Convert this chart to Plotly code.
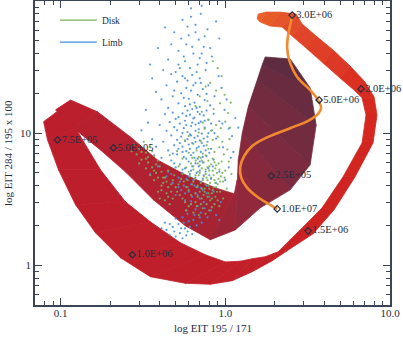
import plotly.graph_objects as go

# ---- data ----
# outer band: loop of the 1.0E+06 ... 3.0E+06 track
BAND_A_OUTER_X = [0.0789, 0.0834, 0.0972, 0.1233, 0.1630, 0.2310, 0.3511, 0.5722, 0.8111, 1.103, 1.458,
                  1.927, 2.583, 3.415, 4.578, 6.136, 7.889, 8.34, 8.00, 7.054, 5.722, 4.512, 3.561, 2.929,
                  2.693, 2.154, 1.772, 1.585]
BAND_A_OUTER_Y = [12.2, 8.88, 5.27, 2.87, 1.76, 1.14, 0.819, 0.730, 0.718, 0.764, 0.893, 1.081, 1.38, 1.73,
                  2.63, 4.67, 8.43, 13.7, 18.8, 24.4, 32.2, 42.6, 54.3, 66.9, 79.6, 82.4, 82.4, 79.6]
BAND_A_INNER_X = [0.1118, 0.1233, 0.1748, 0.2477, 0.3511, 0.5337, 0.7565, 1.0, 1.233, 1.458, 1.748, 2.096,
                  2.477, 2.970, 3.871, 5.191, 6.766, 7.153, 6.766, 6.05, 4.977, 3.926, 3.097, 2.547, 2.215,
                  1.874, 1.630, 1.563]
BAND_A_INNER_Y = [16.9, 10.9, 5.27, 3.02, 2.13, 1.48, 1.20, 1.06, 1.072, 1.12, 1.16, 1.265, 1.56, 1.95, 2.72,
                  4.67, 8.43, 13.7, 18.5, 21.2, 26.1, 33.9, 44.1, 54.3, 63.5, 64.6, 69.3, 73.0]

# inner band: 5.0E+05 ... 2.5E+05 track
BAND_B_UPPER_X = [0.1150, 0.1676, 0.2655, 0.3871, 0.5722, 0.8697, 1.134, 1.182, 1.199, 1.268, 1.379, 1.563,
                  1.676, 1.748]
BAND_B_UPPER_Y = [17.8, 14.5, 9.36, 6.27, 4.83, 3.85, 3.47, 4.43, 6.27, 10.0, 15.8, 25.2, 32.8, 37.7]
BAND_B_LOWER_X = [0.0932, 0.1199, 0.1748, 0.2477, 0.3661, 0.5722, 0.8111, 1.150, 1.630, 2.477, 3.275, 3.561,
                  3.275, 2.477]
BAND_B_LOWER_Y = [15.0, 10.9, 7.46, 5.09, 3.13, 1.99, 1.56, 1.85, 2.72, 3.72, 5.75, 11.5, 22.0, 36.4]

# thin track 3.0E+06 -> 1.0E+07
TRACK_X = [2.547, 2.477, 2.409, 2.375, 2.443, 2.732, 3.275, 3.661, 3.818, 3.661, 3.184, 2.477, 1.822, 1.458,
           1.304, 1.233, 1.250, 1.359, 1.563, 1.822, 2.067]
TRACK_Y = [75.5, 65.7, 55.3, 44.8, 35.8, 26.6, 21.2, 17.8, 15.5, 14.0, 12.4, 10.9, 9.36, 8.00, 6.72, 5.55,
           4.58, 3.85, 3.30, 2.92, 2.67]

MARK_X = [0.0959, 0.2096, 0.2731, 1.900, 2.067, 3.184, 2.547, 3.713, 6.672]
MARK_Y = [8.88, 7.73, 1.20, 4.75, 2.67, 1.82, 78.2, 17.8, 21.6]
MARK_LABELS = ["7.5E+05", "5.0E+05", "1.0E+06", "2.5E+05", "1.0E+07", "1.5E+06", "3.0E+06", "5.0E+06",
               "2.0E+06"]

LIMB_PTS = [
    (0.62, 88), (0.71, 80), (0.55, 72), (0.66, 66), (0.78, 61), (0.49, 58), (0.60, 55), (0.69, 51),
    (0.58, 47), (0.74, 45), (0.52, 42), (0.64, 40), (0.83, 38), (0.45, 36), (0.57, 35), (0.68, 33),
    (0.61, 31), (0.76, 30), (0.50, 29), (0.39, 44), (0.92, 52), (0.35, 33), (0.88, 70), (0.72, 92),
    (0.43, 63), (0.56, 38), (0.63, 45), (0.70, 37), (0.54, 52), (0.66, 58), (0.59, 64), (0.75, 54),
    (0.62, 76), (0.52, 33), (0.72, 40), (0.47, 47), (0.81, 44),
    (0.47, 28), (0.55, 27), (0.63, 27.5), (0.70, 26), (0.59, 25), (0.66, 24), (0.51, 24.5), (0.79, 23),
    (0.44, 23), (0.58, 22), (0.73, 21.5), (0.62, 21), (0.54, 20), (0.68, 19.5), (0.86, 19), (0.48, 19),
    (0.41, 18), (0.60, 18.2), (0.75, 17.8), (0.65, 17), (0.52, 16.8), (0.57, 16), (0.70, 15.8),
    (0.81, 16.2), (0.45, 15.5), (0.63, 15.2), (0.38, 20.5), (0.95, 22), (0.36, 26), (1.02, 18),
    (0.67, 29), (0.53, 31), (0.91, 27), (0.42, 30), (0.77, 34), (0.57, 26), (0.64, 23), (0.71, 24),
    (0.49, 21), (0.56, 18.5), (0.61, 16.5), (0.67, 15.5), (0.77, 19.8),
    (0.48, 14.3), (0.55, 14.1), (0.61, 13.8), (0.68, 14.5), (0.74, 13.6), (0.59, 14.8), (0.85, 14.0),
    (0.43, 13.9), (0.50, 12.8), (0.57, 12.4), (0.64, 12.9), (0.71, 12.2), (0.79, 12.6), (0.46, 12.1),
    (0.53, 11.8), (0.66, 11.6), (0.92, 12.3), (0.40, 11.5), (0.49, 11.1), (0.56, 10.9), (0.62, 11.3),
    (0.69, 10.7), (0.75, 11.0), (0.83, 10.5), (0.44, 10.4), (0.59, 10.2), (0.72, 9.9), (1.05, 10.8),
    (0.47, 9.6), (0.54, 9.4), (0.61, 9.8), (0.65, 9.2), (0.78, 9.4), (0.51, 8.9), (0.57, 8.7),
    (0.70, 8.8), (0.88, 9.1), (0.42, 8.6), (0.63, 8.4), (0.49, 8.1), (0.55, 7.9), (0.60, 8.2),
    (0.67, 7.7), (0.74, 8.0), (0.82, 7.6), (0.45, 7.4), (0.58, 7.3), (0.64, 7.1), (0.71, 7.2),
    (0.97, 7.8), (0.38, 7.9), (0.51, 6.9), (0.56, 6.6), (0.62, 6.8), (0.68, 6.4), (0.77, 6.7),
    (0.47, 6.2), (0.60, 6.1), (0.66, 5.9), (0.73, 6.0), (0.85, 6.3), (0.53, 5.8), (0.41, 6.5),
    (0.50, 5.5), (0.57, 5.4), (0.63, 5.6), (0.70, 5.2), (0.79, 5.4), (0.45, 5.1), (0.55, 5.0),
    (0.61, 4.9), (0.67, 5.0), (0.74, 4.8), (0.92, 5.1), (0.39, 5.6), (0.52, 4.6), (0.58, 4.5),
    (0.64, 4.4), (0.71, 4.3), (0.82, 4.5), (0.48, 4.2), (0.56, 4.0), (0.62, 4.1), (0.68, 3.9),
    (0.77, 4.0), (1.0, 4.4), (0.44, 4.7), (0.54, 3.7), (0.60, 3.6), (0.66, 3.5), (0.73, 3.7),
    (0.85, 3.6), (0.50, 3.4), (0.63, 3.3), (0.70, 3.2), (0.80, 3.3), (0.57, 3.1), (0.94, 3.0),
    (0.52, 13.2), (0.58, 13.5), (0.65, 13.1), (0.70, 13.9), (0.77, 14.8), (0.63, 12.0), (0.69, 11.9),
    (0.75, 12.4), (0.82, 11.8), (0.58, 11.5), (0.51, 10.5), (0.66, 10.4), (0.79, 10.0), (0.55, 10.0),
    (0.62, 9.6), (0.68, 9.5), (0.74, 9.1), (0.86, 10.0), (0.59, 9.0), (0.53, 8.4), (0.66, 8.6),
    (0.72, 8.4), (0.78, 8.6), (0.61, 7.6), (0.69, 7.9), (0.76, 7.4), (0.52, 7.6), (0.48, 7.0),
    (0.55, 7.2), (0.73, 6.6), (0.80, 7.1), (0.58, 6.4), (0.65, 6.5), (0.70, 6.1), (0.49, 5.9),
    (0.55, 5.3), (0.62, 5.2), (0.69, 5.6), (0.76, 5.1), (0.84, 5.6), (0.47, 4.9), (0.60, 4.7),
    (0.66, 4.6), (0.73, 4.5), (0.80, 4.8), (0.53, 4.3), (0.59, 3.9), (0.65, 4.0), (0.71, 3.85),
    (0.88, 4.2), (0.52, 3.9), (0.57, 3.5), (0.68, 3.4), (0.77, 3.5),
    (0.62, 2.9), (0.68, 2.8), (0.75, 2.7), (0.58, 2.6), (0.71, 2.5), (0.82, 2.6), (0.65, 2.4),
    (0.78, 2.3), (0.88, 2.4), (0.55, 2.3), (0.60, 2.15), (0.72, 2.1), (0.52, 2.05), (0.48, 1.95),
    (0.57, 1.9), (0.44, 1.85), (0.53, 1.75), (0.50, 1.65), (0.46, 1.7), (0.59, 1.8), (0.67, 2.0),
    (0.92, 2.2), (0.41, 1.9), (0.55, 1.6), (0.63, 1.72), (0.62, 3.05), (0.74, 3.0), (0.66, 2.65),
    (0.59, 2.45), (0.70, 2.3), (0.64, 2.2), (0.56, 2.1), (0.50, 2.25), (0.46, 2.05), (0.61, 1.95),
    (0.43, 2.1), (0.49, 1.8), (0.58, 1.68), (0.54, 1.9),
    (1.1, 9.5), (1.15, 13), (1.08, 6.5), (0.99, 15), (1.2, 11), (1.12, 7.2), (0.96, 11.8), (1.05, 5.5),
    (0.34, 12), (0.36, 9), (0.33, 15), (0.37, 6.8), (0.31, 10.5), (0.35, 4.9),
]

DISK_PTS = [
    (0.62, 5.9), (0.66, 6.2), (0.70, 5.7), (0.74, 6.0), (0.78, 5.5), (0.82, 5.8), (0.87, 5.4), (0.91, 5.9),
    (0.64, 5.3), (0.68, 5.1), (0.72, 5.4), (0.76, 4.9), (0.80, 5.2), (0.85, 4.8), (0.89, 5.0), (0.94, 4.7),
    (0.61, 4.7), (0.65, 4.5), (0.69, 4.8), (0.73, 4.4), (0.77, 4.6), (0.81, 4.2), (0.86, 4.4), (0.90, 4.1),
    (0.63, 4.1), (0.67, 3.9), (0.71, 4.2), (0.75, 3.8), (0.79, 4.0), (0.84, 3.7), (0.88, 3.9), (0.93, 3.6),
    (0.60, 3.7), (0.66, 3.5), (0.70, 3.6), (0.74, 3.4), (0.78, 3.3), (0.83, 3.5), (0.97, 4.3), (1.0, 5.2),
    (0.58, 5.5), (0.56, 4.3), (0.69, 6.6), (0.76, 6.8), (0.84, 6.4), (0.63, 6.5), (0.95, 6.1), (0.72, 3.2),
    (0.81, 3.1), (0.87, 3.3),
    (0.64, 5.6), (0.68, 5.9), (0.72, 6.2), (0.76, 5.3), (0.80, 5.6), (0.84, 5.2), (0.88, 5.7), (0.66, 4.8),
    (0.70, 5.0), (0.74, 4.7), (0.78, 4.4), (0.82, 4.6), (0.87, 4.2), (0.91, 4.5), (0.64, 4.3), (0.68, 4.0),
    (0.72, 3.8), (0.76, 4.1), (0.80, 3.8), (0.85, 3.9), (0.89, 3.6), (0.62, 3.4), (0.68, 3.3), (0.75, 3.6),
    (0.79, 3.5), (0.83, 3.2), (0.58, 3.9), (0.55, 4.9), (0.60, 5.1), (0.71, 6.5), (0.79, 6.2), (0.86, 6.0),
    (0.92, 5.3), (0.96, 5.0), (0.93, 4.3), (0.99, 4.6), (0.59, 4.4), (0.52, 4.1), (0.48, 4.4), (0.45, 3.9),
    (0.51, 3.6), (0.55, 3.2), (0.60, 2.8), (0.66, 3.0), (0.71, 2.9), (0.77, 2.9), (0.83, 2.75), (0.90, 3.1),
    (0.45, 5.2), (0.49, 4.8), (0.52, 5.6), (0.47, 4.1), (0.54, 4.5), (0.50, 3.9), (0.43, 4.6), (0.41, 3.7),
    (0.53, 3.4), (0.48, 3.2), (0.57, 3.0), (0.62, 2.9), (0.67, 2.8), (0.73, 2.7), (0.80, 2.6), (0.58, 2.6),
    (0.64, 2.5), (0.69, 2.4), (0.76, 2.45), (0.55, 6.4), (0.60, 7.1), (0.67, 7.4), (0.73, 7.0), (0.79, 7.6),
    (0.86, 7.2), (0.92, 7.8), (0.98, 6.9), (1.03, 7.5), (0.64, 8.3), (0.71, 8.7), (0.77, 8.1), (0.84, 8.9),
    (0.90, 9.4), (0.96, 8.6), (1.06, 9.0), (0.69, 10.1), (0.75, 10.8), (0.82, 10.4), (0.88, 11.5),
    (0.94, 10.9), (1.0, 12.2), (0.79, 12.6), (1.05, 6.1), (1.09, 4.9), (1.02, 3.8), (0.97, 3.2),
    (0.92, 2.8), (0.86, 2.9), (1.07, 11.0), (0.73, 12.0), (0.60, 9.5), (0.51, 7.3), (0.46, 6.8),
    (0.57, 8.8),
    (0.72, 14.5), (0.85, 15.2), (0.93, 16.8), (0.78, 17.5), (0.99, 19.5), (0.88, 21), (0.81, 24),
    (0.95, 27), (0.70, 19), (1.04, 14.2), (0.66, 16), (0.90, 31), (0.76, 22.5), (1.08, 17), (0.84, 35),
    (0.28, 8.2), (0.30, 7.6), (0.32, 8.6), (0.29, 6.9), (0.33, 7.1), (0.35, 7.9), (0.31, 6.3), (0.34, 6.0),
    (0.37, 6.7), (0.36, 5.5), (0.39, 6.2), (0.38, 5.0), (0.40, 5.6), (0.42, 4.6), (0.37, 4.4), (0.41, 4.0),
    (0.39, 3.6), (0.44, 3.5), (0.35, 4.8), (0.33, 5.4), (0.30, 5.9), (0.43, 3.1), (0.46, 2.9), (0.40, 3.2),
    (0.27, 7.3), (0.31, 7.2), (0.34, 6.6), (0.36, 7.3), (0.33, 6.4), (0.38, 5.8), (0.41, 5.1), (0.44, 4.3),
    (0.39, 4.6), (0.42, 4.2), (0.47, 3.6), (0.45, 3.3), (0.37, 5.2),
]

# ---- styling ----
FONT = "Liberation Serif"
INK = "#252c3e"
AXIS = "#3a4557"
GREEN = "#78b05c"
BLUE = "#4a8fdc"
BAND_A_STOPS = [(0.0, "#bc1e2c"), (0.35, "#c21f29"), (0.55, "#d02420"), (0.7, "#d82c20"),
                (0.85, "#e0462a"), (1.0, "#ea6229")]
BAND_B_STOPS = [(0.0, "#bb1f2d"), (0.4, "#a92233"), (0.55, "#97273a"), (0.75, "#7c2a3f"),
                (1.0, "#5e2c40")]


def _hex(c):
    return tuple(int(c[i:i + 2], 16) for i in (1, 3, 5))


def _ramp(stops, t):
    for (t0, c0), (t1, c1) in zip(stops, stops[1:]):
        if t <= t1:
            f = (t - t0) / (t1 - t0) if t1 > t0 else 0
            a, b = _hex(c0), _hex(c1)
            return "rgb(%d,%d,%d)" % tuple(round(a[k] + (b[k] - a[k]) * f) for k in range(3))
    return stops[-1][1]


def add_band(fig, ox, oy, ix, iy, stops):
    n = len(ox)
    for i in range(n - 1):
        col = _ramp(stops, i / (n - 2))
        fig.add_trace(go.Scatter(
            x=[ox[i], ox[i + 1], ix[i + 1], ix[i], ox[i]],
            y=[oy[i], oy[i + 1], iy[i + 1], iy[i], oy[i]],
            mode="lines", fill="toself", fillcolor=col,
            line=dict(color=col, width=0.8),
            hoverinfo="skip", showlegend=False,
        ))


fig = go.Figure()

add_band(fig, BAND_A_OUTER_X, BAND_A_OUTER_Y, BAND_A_INNER_X, BAND_A_INNER_Y, BAND_A_STOPS)
add_band(fig, BAND_B_LOWER_X, BAND_B_LOWER_Y, BAND_B_UPPER_X, BAND_B_UPPER_Y, BAND_B_STOPS)

fig.add_trace(go.Scatter(
    x=[p[0] for p in LIMB_PTS], y=[p[1] for p in LIMB_PTS],
    mode="markers", marker=dict(color=BLUE, size=2.2, opacity=0.9, line=dict(width=0)),
    hoverinfo="skip", showlegend=False,
))
fig.add_trace(go.Scatter(
    x=[p[0] for p in DISK_PTS], y=[p[1] for p in DISK_PTS],
    mode="markers", marker=dict(color=GREEN, size=2.2, opacity=0.9, line=dict(width=0)),
    hoverinfo="skip", showlegend=False,
))

fig.add_trace(go.Scatter(
    x=TRACK_X, y=TRACK_Y, mode="lines",
    line=dict(color="#f28a30", width=2.6, shape="spline"),
    hoverinfo="skip", showlegend=False,
))

fig.add_trace(go.Scatter(
    x=MARK_X, y=MARK_Y, mode="markers+text",
    marker=dict(symbol="diamond-open", size=5, color=INK, line=dict(width=1.2, color=INK)),
    text=MARK_LABELS, textposition="middle right",
    textfont=dict(family=FONT, size=10.5, color=INK),
    cliponaxis=False, hoverinfo="skip", showlegend=False,
))

# legend entries (lines, as in the original)
fig.add_trace(go.Scatter(x=[None], y=[None], mode="lines", name="Disk", legendgroup="d",
                         line=dict(color=GREEN, width=1.2)))
fig.add_trace(go.Scatter(x=[None], y=[None], mode="lines", name="Limb", legendgroup="l",
                         line=dict(color=BLUE, width=1.2)))

minor_x = [0.07, 0.08, 0.09] + [k / 10 for k in range(2, 10)] + list(range(2, 10))
minor_y = [0.5, 0.6, 0.7, 0.8, 0.9] + list(range(2, 10)) + list(range(20, 100, 10))

axis_common = dict(
    type="log", showline=True, linecolor=AXIS, linewidth=1.5, mirror="allticks", automargin=False,
    ticks="inside", ticklen=7, tickwidth=1.2, tickcolor=AXIS, showgrid=False, zeroline=False,
    tickfont=dict(family=FONT, size=11, color=INK),
)

fig.update_xaxes(
    **axis_common, range=[-1.155, 1], tickmode="array", tickvals=[0.1, 1, 10],
    ticktext=["0.1", "1.0", "10.0"], ticklabelstandoff=-3,
    minor=dict(tickvals=minor_x, ticks="inside", ticklen=4, tickwidth=1, tickcolor=AXIS, showgrid=False),
)
fig.update_yaxes(
    **axis_common, range=[-0.301, 2], tickmode="array", tickvals=[1, 10, 100],
    ticktext=["1", "10", "100"],
    minor=dict(tickvals=minor_y, ticks="inside", ticklen=4, tickwidth=1, tickcolor=AXIS, showgrid=False),
)

fig.update_layout(
    width=403, height=338,
    margin=dict(l=35, r=13, t=1, b=33),
    plot_bgcolor="white", paper_bgcolor="white",
    font=dict(family=FONT, color=INK),
    showlegend=True,
    legend=dict(x=0.056, y=0.985, xanchor="left", yanchor="top", bgcolor="rgba(0,0,0,0)",
                font=dict(family=FONT, size=9.5, color=INK), tracegroupgap=3, itemwidth=37),
    annotations=[
        dict(text="log EIT 195 / 171", xref="paper", yref="paper", x=0.5, y=-0.075,
             xanchor="center", yanchor="middle", showarrow=False,
             font=dict(family=FONT, size=11, color=INK)),
        dict(text="log EIT 284 / 195 x 100", xref="paper", yref="paper", x=-0.076, y=0.5,
             xanchor="center", yanchor="middle", textangle=-90, showarrow=False,
             font=dict(family=FONT, size=11, color=INK)),
    ],
)

# the page's default body margin would shift the figure; remove it
fig.write_html("out.html", config={"displayModeBar": False},
               post_script="document.body.style.margin='0';")
